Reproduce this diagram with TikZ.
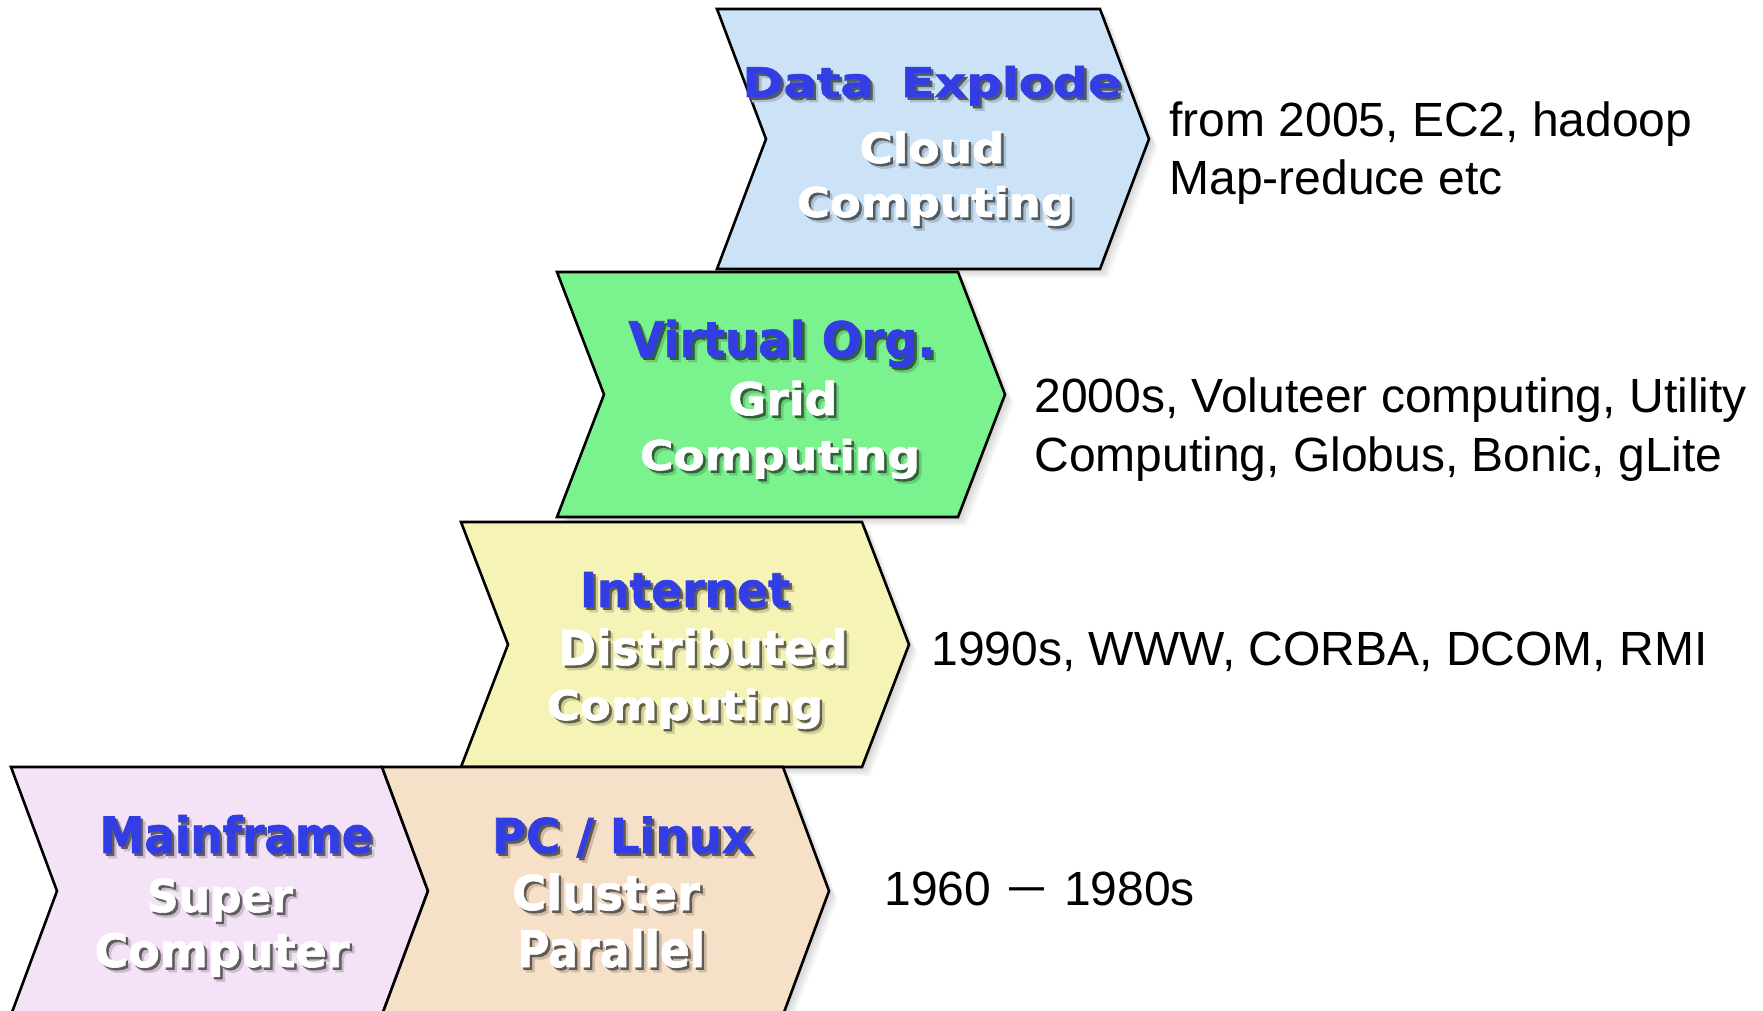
\documentclass[tikz,border=0pt]{standalone}
\usepackage{fontspec}
\setmainfont{Liberation Sans}
\newfontfamily\heavy[FakeBold=1.4]{DejaVu Sans Bold}
\usetikzlibrary{calc}
\newdimen\pxu \pxu=0.5pt

\definecolor{headblue}{RGB}{50,62,228}
\definecolor{cloudfill}{RGB}{204,226,246}
\definecolor{gridfill}{RGB}{122,242,142}
\definecolor{netfill}{RGB}{245,243,181}
\definecolor{mainfill}{RGB}{244,226,246}
\definecolor{pcfill}{RGB}{246,224,200}

% chevron: #1 fill, #2 left, #3 right, #4 top, #5 bottom, #6 point depth
\newcommand\chevron[6]{%
  \foreach \k in {1,...,9}{%
    \fill[black,opacity=0.018]
      (#2+\k,#4+\k) -- (#3+\k,#4+\k) -- ({#3+#6+\k},{(#4+#5)/2+\k})
      -- (#3+\k,#5+\k) -- (#2+\k,#5+\k) -- ({#2+#6+\k},{(#4+#5)/2+\k}) -- cycle;
  }
  \draw[chev,fill=#1] (#2,#4) -- (#3,#4) -- ({#3+#6},{(#4+#5)/2})
      -- (#3,#5) -- (#2,#5) -- ({#2+#6},{(#4+#5)/2}) -- cycle;
}

% label with a drop shadow: #1 name, #2 x, #3 baseline, #4 width (px),
% #5 size (pt), #6 text colour, #7 fill behind it, #8 text
\newcommand\boxlabel[8]{%
  \node[lbl] (#1) at (#2,#3) {\fontsize{#5}{#5}\selectfont
    \def\lblpiece##1{\resizebox{#4\pxu}{\height}{\color{##1}#8}}%
    \rlap{\kern5\pxu\raisebox{-5\pxu}{\lblpiece{black!16!#7}}}%
    \rlap{\kern2.5\pxu\raisebox{-2.5\pxu}{\lblpiece{black!60!#7}}}%
    \lblpiece{#6}};
}

\begin{document}
\begin{tikzpicture}[x=0.5pt,y=-0.5pt,
  chev/.style={draw=black,line width=1.3pt,line join=miter},
  lbl/.style={font=\heavy,anchor=base,inner sep=0pt},
  note/.style={anchor=base west,inner sep=0pt,text=black,
    font=\fontsize{24}{28.5}\selectfont}]

\useasboundingbox[fill=white] (0,0) rectangle (1763,1011);
\clip (0,0) rectangle (1763,1011);

% chevrons, top to bottom
\chevron{cloudfill}{717}{1100}{9}{269}{49}
\chevron{gridfill}{557}{958}{272}{517}{47}
\chevron{netfill}{461}{862}{522}{767}{47}
\chevron{mainfill}{11}{382}{767}{1015}{46}
\chevron{pcfill}{382}{783}{767}{1015}{46}

% Data Explode / Cloud Computing
\boxlabel{dataexp}{932}{97}{379}{20.5}{headblue}{cloudfill}{Data\hspace{0.2em} Explode}
\boxlabel{cloud}{932}{163}{145}{21}{white}{cloudfill}{Cloud}
\boxlabel{cloudcomp}{935}{217}{276}{20.5}{white}{cloudfill}{Computing}

% Virtual Org. / Grid Computing
\boxlabel{virtorg}{782}{357}{307}{24.5}{headblue}{gridfill}{Virtual Org.}
\boxlabel{grid}{783}{415}{109}{22.5}{white}{gridfill}{Grid}
\boxlabel{gridcomp}{780}{470}{280}{20.5}{white}{gridfill}{Computing}

% Internet / Distributed Computing
\boxlabel{internet}{685}{607}{210}{24}{headblue}{netfill}{Internet}
\boxlabel{distrib}{703}{665}{289}{24}{white}{netfill}{Distributed}
\boxlabel{distcomp}{685}{720}{276}{20.5}{white}{netfill}{Computing}

% Mainframe / Super Computer
\boxlabel{mainframe}{236}{853}{273}{25}{headblue}{mainfill}{Mainframe}
\boxlabel{super}{220}{912}{146}{22.5}{white}{mainfill}{Super}
\boxlabel{supercomp}{222}{967}{255}{23}{white}{mainfill}{Computer}

% PC / Linux / Cluster Parallel
\boxlabel{pclinux}{622}{853}{260}{24}{headblue}{pcfill}{PC / Linux}
\boxlabel{cluster}{606}{910}{188}{24}{white}{pcfill}{Cluster}
\boxlabel{parallel}{611}{967}{188}{25}{white}{pcfill}{Parallel}

% notes beside each stage
\node[note] (cloudnoteA) at (1169,137) {from 2005, EC2, hadoop};
\node[note] (cloudnoteB) at (1169,195) {Map-reduce etc};
\node[note] (gridnoteA) at (1034,412) {2000s, Voluteer computing, Utility};
\node[note] (gridnoteB) at (1034,471) {Computing, Globus, Bonic, gLite};
\node[note] (netnote) at (931,665) {1990s, WWW, CORBA, DCOM, RMI};
\node[note] (mainnote) at (884,905)
  {1960\hspace{9pt}\raisebox{2pt}{\resizebox{17.5pt}{\height}{—}}\hspace{10pt}1980s};

\end{tikzpicture}
\end{document}
